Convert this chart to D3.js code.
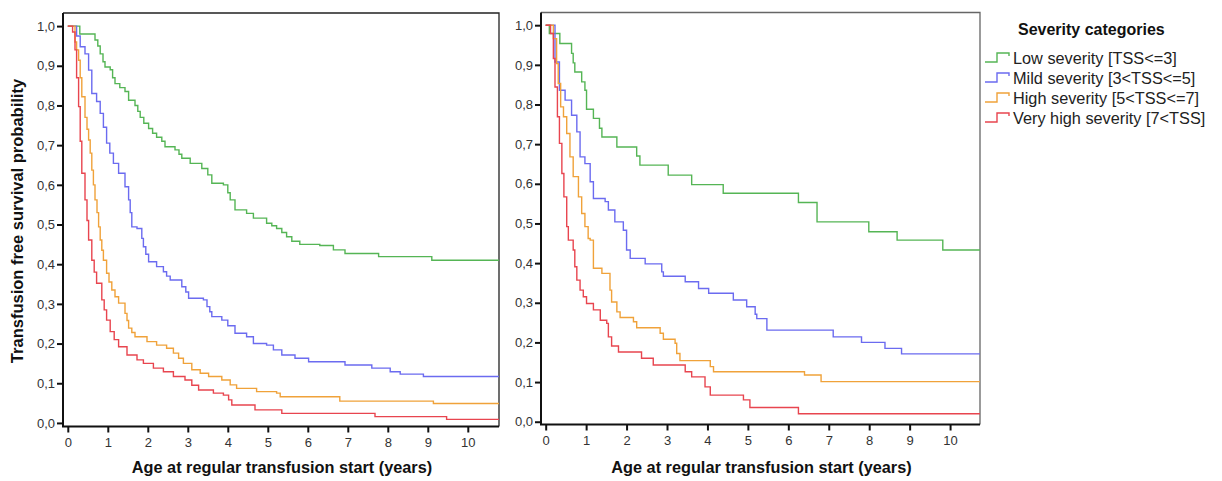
<!DOCTYPE html>
<html>
<head>
<meta charset="utf-8">
<script src="https://cdn.jsdelivr.net/npm/d3@7"></script>
<style>
  body { margin: 0; background: #fff; }
  svg { font-family: "Liberation Sans", Arial, sans-serif; }
  .tick text { fill: #333; }
</style>
</head>
<body>
<div id="chart"></div>
<script>
// categories & colours
const categories = [
  "Low severity [TSS<=3]",
  "Mild severity [3<TSS<=5]",
  "High severity [5<TSS<=7]",
  "Very high severity [7<TSS]"
];
const colors = ["#55b555", "#6b6bf0", "#f0a23a", "#e8454f"];
const xTicks = [0, 1, 2, 3, 4, 5, 6, 7, 8, 9, 10];
const yTicks = [0, 0.1, 0.2, 0.3, 0.4, 0.5, 0.6, 0.7, 0.8, 0.9, 1.0];

// left panel: [age, survival] steps
const leftLow = [[0,1],[0.3,0.98],[0.68,0.965],[0.75,0.95],[0.81,0.93],[0.88,0.91],[0.93,0.897],[1.06,0.89],[1.12,0.87],[1.18,0.855],[1.3,0.845],[1.43,0.835],[1.52,0.813],[1.68,0.8],[1.75,0.785],[1.81,0.77],[1.9,0.755],[2.02,0.742],[2.12,0.73],[2.22,0.72],[2.35,0.71],[2.43,0.696],[2.68,0.688],[2.78,0.677],[2.85,0.667],[3.06,0.654],[3.35,0.641],[3.5,0.625],[3.6,0.604],[3.89,0.6],[4.0,0.58],[4.06,0.562],[4.18,0.537],[4.47,0.528],[4.64,0.516],[4.97,0.503],[5.1,0.497],[5.22,0.49],[5.35,0.48],[5.47,0.469],[5.6,0.458],[5.8,0.45],[6.3,0.447],[6.64,0.436],[6.93,0.427],[7.77,0.419],[9.1,0.41],[10.78,0.41]];
const leftMild = [[0,1],[0.22,0.975],[0.31,0.948],[0.43,0.93],[0.52,0.889],[0.6,0.83],[0.72,0.81],[0.81,0.78],[0.89,0.745],[0.97,0.705],[1.05,0.68],[1.14,0.654],[1.27,0.629],[1.43,0.595],[1.52,0.562],[1.56,0.53],[1.6,0.494],[1.73,0.49],[1.85,0.465],[1.89,0.444],[1.95,0.425],[2.02,0.406],[2.22,0.394],[2.39,0.381],[2.47,0.37],[2.56,0.36],[2.85,0.343],[2.95,0.33],[3.02,0.314],[3.39,0.31],[3.48,0.293],[3.55,0.28],[3.6,0.268],[3.85,0.259],[4.0,0.245],[4.18,0.226],[4.47,0.217],[4.64,0.2],[4.97,0.196],[5.14,0.184],[5.35,0.171],[5.68,0.163],[6.02,0.154],[6.93,0.146],[7.6,0.138],[8.06,0.129],[8.31,0.123],[8.89,0.117],[10.78,0.117]];
const leftHigh = [[0,1],[0.18,0.96],[0.22,0.94],[0.27,0.914],[0.31,0.87],[0.35,0.822],[0.43,0.77],[0.48,0.74],[0.52,0.713],[0.56,0.68],[0.6,0.637],[0.64,0.6],[0.68,0.562],[0.73,0.53],[0.77,0.494],[0.81,0.461],[0.85,0.435],[0.89,0.41],[0.97,0.377],[1.03,0.355],[1.1,0.335],[1.18,0.318],[1.27,0.302],[1.43,0.276],[1.48,0.258],[1.52,0.239],[1.6,0.228],[1.68,0.217],[1.98,0.205],[2.22,0.196],[2.47,0.188],[2.64,0.176],[2.77,0.163],[2.89,0.15],[3.1,0.134],[3.31,0.125],[3.52,0.117],[3.85,0.108],[4.06,0.096],[4.22,0.087],[4.72,0.079],[5.22,0.075],[5.31,0.066],[6.8,0.055],[9.14,0.049],[10.78,0.049]];
const leftVeryHigh = [[0,1],[0.12,0.985],[0.18,0.94],[0.22,0.87],[0.27,0.797],[0.31,0.71],[0.35,0.629],[0.43,0.562],[0.48,0.51],[0.52,0.461],[0.6,0.41],[0.66,0.38],[0.72,0.352],[0.85,0.31],[0.91,0.285],[0.97,0.259],[1.06,0.23],[1.16,0.21],[1.27,0.192],[1.48,0.171],[1.73,0.159],[1.89,0.15],[2.14,0.138],[2.39,0.129],[2.64,0.117],[2.93,0.108],[3.1,0.095],[3.27,0.083],[3.64,0.075],[3.89,0.07],[4.02,0.058],[4.1,0.045],[4.68,0.033],[5.35,0.024],[7.68,0.016],[9.47,0.009],[10.78,0.009]];

// right panel: [age, survival] steps
const rightLow = [[0,1],[0.09,0.979],[0.35,0.954],[0.64,0.929],[0.68,0.905],[0.72,0.882],[0.89,0.857],[0.97,0.836],[1.01,0.788],[1.18,0.765],[1.33,0.74],[1.39,0.718],[1.76,0.693],[2.25,0.67],[2.33,0.647],[3.03,0.622],[3.61,0.598],[4.39,0.576],[6.25,0.553],[6.71,0.504],[7.99,0.479],[8.69,0.458],[9.82,0.433],[10.74,0.433]];
const rightMild = [[0,1],[0.23,0.907],[0.34,0.836],[0.48,0.811],[0.64,0.773],[0.77,0.731],[0.85,0.668],[0.97,0.651],[1.1,0.605],[1.18,0.563],[1.47,0.555],[1.55,0.534],[1.71,0.504],[1.92,0.483],[2.0,0.433],[2.09,0.412],[2.46,0.398],[2.87,0.378],[2.91,0.367],[3.45,0.353],[3.78,0.336],[4.03,0.324],[4.64,0.307],[4.97,0.29],[5.18,0.271],[5.22,0.26],[5.47,0.231],[7.11,0.214],[7.81,0.2],[8.39,0.185],[8.8,0.171],[10.74,0.171]];
const rightHigh = [[0,1],[0.19,0.966],[0.27,0.903],[0.31,0.853],[0.37,0.794],[0.44,0.769],[0.52,0.727],[0.6,0.668],[0.68,0.618],[0.81,0.567],[0.89,0.525],[0.97,0.492],[1.05,0.462],[1.1,0.458],[1.18,0.387],[1.39,0.374],[1.59,0.332],[1.63,0.302],[1.76,0.277],[1.84,0.263],[2.17,0.252],[2.25,0.237],[2.83,0.223],[2.91,0.208],[3.2,0.198],[3.24,0.172],[3.32,0.154],[4.07,0.139],[4.15,0.126],[6.4,0.118],[6.81,0.101],[10.74,0.101]];
const rightVeryHigh = [[0,1],[0.12,0.979],[0.19,0.916],[0.23,0.844],[0.29,0.769],[0.34,0.702],[0.4,0.626],[0.45,0.567],[0.52,0.492],[0.56,0.458],[0.68,0.433],[0.72,0.391],[0.77,0.357],[0.85,0.332],[0.93,0.315],[1.01,0.298],[1.18,0.282],[1.35,0.256],[1.51,0.248],[1.55,0.214],[1.63,0.191],[1.8,0.176],[2.37,0.16],[2.66,0.143],[3.45,0.126],[3.61,0.113],[3.94,0.088],[4.07,0.067],[4.89,0.055],[5.05,0.036],[6.25,0.02],[10.74,0.02]];

////////////////////////////////////////////////////////////////////
////////////////////////////  Init  ///////////////////////////////

const width = 1222;
const height = 481;

const svg = d3.select("#chart").append("svg")
  .attr("width", width)
  .attr("height", height);

const fmt = (d) => d3.format(".1f")(d).replace(".", ",");

const panels = [
  {
    series: [leftLow, leftMild, leftHigh, leftVeryHigh],
    xDomain: [-0.12, 10.78], xRange: [63, 499],
    yDomain: [-0.009, 1.033], yRange: [426.5, 13],
    frame: "#222"
  },
  {
    series: [rightLow, rightMild, rightHigh, rightVeryHigh],
    xDomain: [-0.116, 10.74], xRange: [541, 980],
    yDomain: [-0.007, 1.032], yRange: [424.5, 12.5],
    frame: "#666"
  }
];

panels.forEach((p) => {
  const xScale = d3.scaleLinear().domain(p.xDomain).range(p.xRange);
  const yScale = d3.scaleLinear().domain(p.yDomain).range(p.yRange);
  const [x0, x1] = p.xRange;
  const [y0, y1] = p.yRange;

  // frame (top, right)
  svg.append("path")
    .attr("d", `M${x0},${y1}H${x1}V${y0}`)
    .attr("fill", "none")
    .attr("stroke", p.frame)
    .attr("stroke-width", 1.3);

  // axes
  const xAxis = d3.axisBottom(xScale).tickValues(xTicks).tickSize(6).tickSizeOuter(0).tickPadding(5);
  const yAxis = d3.axisLeft(yScale).tickValues(yTicks).tickSize(6).tickSizeOuter(0).tickPadding(2).tickFormat(fmt);

  const gx = svg.append("g")
    .attr("transform", `translate(0, ${y0})`)
    .call(xAxis);
  const gy = svg.append("g")
    .attr("transform", `translate(${x0}, 0)`)
    .call(yAxis);

  [gx, gy].forEach((g) => {
    g.select(".domain").remove();
    g.selectAll(".tick line").attr("stroke", "#111").attr("stroke-width", 2);
    g.selectAll(".tick text")
      .attr("font-size", 13)
      .attr("font-family", "Liberation Sans, Arial, sans-serif");
  });

  svg.append("path")
    .attr("d", `M${x0},${y1}V${y0}H${x1}`)
    .attr("fill", "none")
    .attr("stroke", "#111")
    .attr("stroke-width", 2);

  // survival curves
  const line = d3.line()
    .curve(d3.curveStepAfter)
    .x((d) => xScale(d[0]))
    .y((d) => yScale(d[1]));

  p.series.forEach((s, i) => {
    svg.append("path")
      .datum(s)
      .attr("d", line)
      .attr("fill", "none")
      .attr("stroke", colors[i])
      .attr("stroke-width", 1.4);
  });

  // x axis title
  svg.append("text")
    .attr("x", (x0 + x1) / 2 + 1)
    .attr("y", 473)
    .attr("text-anchor", "middle")
    .attr("font-weight", "bold")
    .attr("font-size", 16.3)
    .attr("fill", "#111")
    .text("Age at regular transfusion start (years)");
});

// y axis title
svg.append("text")
  .attr("transform", "translate(23, 221) rotate(-90)")
  .attr("text-anchor", "middle")
  .attr("font-weight", "bold")
  .attr("font-size", 16.5)
  .attr("fill", "#111")
  .text("Transfusion free survival probability");

// legend
const legend = svg.append("g").attr("transform", "translate(985, 0)");

legend.append("text")
  .attr("x", 33)
  .attr("y", 35)
  .attr("font-weight", "bold")
  .attr("font-size", 16)
  .attr("fill", "#111")
  .text("Severity categories");

categories.forEach((c, i) => {
  const y = 58 + i * 20;
  legend.append("path")
    .attr("d", `M0,${y + 4}H12V${y - 5}H24V${y - 2}`)
    .attr("fill", "none")
    .attr("stroke", colors[i])
    .attr("stroke-width", 1.4);
  legend.append("text")
    .attr("x", 28)
    .attr("y", y + 6)
    .attr("font-size", 16.3)
    .attr("fill", "#222")
    .text(c);
});
</script>
</body>
</html>
